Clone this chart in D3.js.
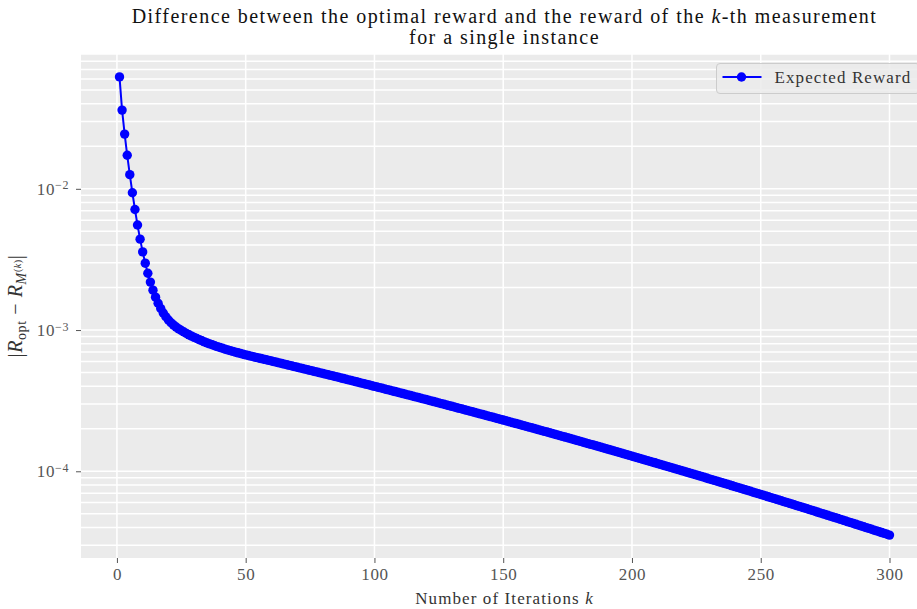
<!DOCTYPE html>
<html>
<head>
<meta charset="utf-8">
<script src="https://cdn.jsdelivr.net/npm/d3@7"></script>
<style>
  body { margin: 0; background: #fff; }
  svg { display: block; font-family: "Liberation Serif", "DejaVu Serif", serif; }
</style>
</head>
<body>
<div id="chartContainer"></div>
<script>
// iteration index k and |R_opt - R_M(k)|
const iterations = d3.range(1, 301);
const rewardGap = [
  // k = 1..10
  0.0620, 0.0361, 0.02441, 0.01728, 0.01260, 9.386e-3, 7.137e-3, 5.540e-3, 4.401e-3, 3.577e-3,
  // 11..20
  2.975e-3, 2.526e-3, 2.185e-3, 1.917e-3, 1.710e-3, 1.549e-3, 1.422e-3, 1.321e-3, 1.242e-3, 1.178e-3,
  // 21..30
  1.127e-3, 1.085e-3, 1.050e-3, 1.019e-3, 9.922e-4, 9.681e-4, 9.460e-4, 9.253e-4, 9.059e-4, 8.878e-4,
  // 31..40
  8.708e-4, 8.547e-4, 8.395e-4, 8.251e-4, 8.115e-4, 7.987e-4, 7.865e-4, 7.748e-4, 7.637e-4, 7.530e-4,
  // 41..50
  7.428e-4, 7.332e-4, 7.239e-4, 7.150e-4, 7.063e-4, 6.981e-4, 6.901e-4, 6.823e-4, 6.748e-4, 6.668e-4,
  // 51..60
  6.602e-4, 6.537e-4, 6.472e-4, 6.408e-4, 6.345e-4, 6.282e-4, 6.220e-4, 6.158e-4, 6.097e-4, 6.037e-4,
  // 61..70
  5.976e-4, 5.916e-4, 5.857e-4, 5.798e-4, 5.740e-4, 5.682e-4, 5.625e-4, 5.568e-4, 5.512e-4, 5.457e-4,
  // 71..80
  5.401e-4, 5.346e-4, 5.292e-4, 5.238e-4, 5.185e-4, 5.132e-4, 5.080e-4, 5.028e-4, 4.977e-4, 4.926e-4,
  // 81..90
  4.875e-4, 4.825e-4, 4.775e-4, 4.726e-4, 4.677e-4, 4.629e-4, 4.581e-4, 4.534e-4, 4.487e-4, 4.440e-4,
  // 91..100
  4.393e-4, 4.347e-4, 4.301e-4, 4.256e-4, 4.211e-4, 4.167e-4, 4.123e-4, 4.080e-4, 4.037e-4, 3.995e-4,
  // 101..110
  3.953e-4, 3.911e-4, 3.869e-4, 3.828e-4, 3.787e-4, 3.747e-4, 3.707e-4, 3.668e-4, 3.629e-4, 3.590e-4,
  // 111..120
  3.551e-4, 3.513e-4, 3.475e-4, 3.438e-4, 3.401e-4, 3.364e-4, 3.328e-4, 3.292e-4, 3.256e-4, 3.221e-4,
  // 121..130
  3.186e-4, 3.151e-4, 3.117e-4, 3.083e-4, 3.049e-4, 3.016e-4, 2.983e-4, 2.950e-4, 2.918e-4, 2.885e-4,
  // 131..140
  2.853e-4, 2.821e-4, 2.790e-4, 2.759e-4, 2.728e-4, 2.698e-4, 2.668e-4, 2.638e-4, 2.609e-4, 2.581e-4,
  // 141..150
  2.552e-4, 2.523e-4, 2.495e-4, 2.467e-4, 2.439e-4, 2.412e-4, 2.385e-4, 2.358e-4, 2.332e-4, 2.305e-4,
  // 151..160
  2.279e-4, 2.253e-4, 2.227e-4, 2.202e-4, 2.177e-4, 2.152e-4, 2.128e-4, 2.104e-4, 2.080e-4, 2.056e-4,
  // 161..170
  2.032e-4, 2.009e-4, 1.986e-4, 1.963e-4, 1.940e-4, 1.918e-4, 1.896e-4, 1.874e-4, 1.852e-4, 1.831e-4,
  // 171..180
  1.810e-4, 1.789e-4, 1.768e-4, 1.747e-4, 1.727e-4, 1.707e-4, 1.687e-4, 1.667e-4, 1.648e-4, 1.628e-4,
  // 181..190
  1.609e-4, 1.590e-4, 1.571e-4, 1.552e-4, 1.534e-4, 1.516e-4, 1.498e-4, 1.480e-4, 1.462e-4, 1.445e-4,
  // 191..200
  1.428e-4, 1.411e-4, 1.394e-4, 1.377e-4, 1.361e-4, 1.345e-4, 1.329e-4, 1.313e-4, 1.297e-4, 1.281e-4,
  // 201..210
  1.265e-4, 1.250e-4, 1.235e-4, 1.220e-4, 1.205e-4, 1.190e-4, 1.176e-4, 1.162e-4, 1.148e-4, 1.134e-4,
  // 211..220
  1.120e-4, 1.106e-4, 1.092e-4, 1.079e-4, 1.066e-4, 1.053e-4, 1.040e-4, 1.027e-4, 1.014e-4, 1.002e-4,
  // 221..230
  9.896e-5, 9.773e-5, 9.652e-5, 9.532e-5, 9.414e-5, 9.297e-5, 9.182e-5, 9.068e-5, 8.955e-5, 8.844e-5,
  // 231..240
  8.733e-5, 8.623e-5, 8.515e-5, 8.408e-5, 8.302e-5, 8.198e-5, 8.095e-5, 7.993e-5, 7.893e-5, 7.793e-5,
  // 241..250
  7.694e-5, 7.596e-5, 7.499e-5, 7.404e-5, 7.310e-5, 7.217e-5, 7.125e-5, 7.034e-5, 6.945e-5, 6.857e-5,
  // 251..260
  6.769e-5, 6.682e-5, 6.596e-5, 6.511e-5, 6.427e-5, 6.344e-5, 6.262e-5, 6.181e-5, 6.102e-5, 6.024e-5,
  // 261..270
  5.946e-5, 5.869e-5, 5.793e-5, 5.718e-5, 5.644e-5, 5.570e-5, 5.498e-5, 5.426e-5, 5.355e-5, 5.284e-5,
  // 271..280
  5.214e-5, 5.145e-5, 5.077e-5, 5.010e-5, 4.944e-5, 4.879e-5, 4.815e-5, 4.752e-5, 4.689e-5, 4.628e-5,
  // 281..290
  4.566e-5, 4.505e-5, 4.445e-5, 4.386e-5, 4.328e-5, 4.270e-5, 4.213e-5, 4.157e-5, 4.102e-5, 4.048e-5,
  // 291..300
  3.994e-5, 3.940e-5, 3.887e-5, 3.835e-5, 3.783e-5, 3.732e-5, 3.682e-5, 3.632e-5, 3.583e-5, 3.534e-5
];

const xTickValues = [0, 50, 100, 150, 200, 250, 300];
const yTickExponents = [-4, -3, -2];
const seriesName = "Expected Reward";

const ctx = {
    SVG_W: 917,
    SVG_H: 609,
    margin: { top: 54, left: 81 },
    plotW: 847,
    plotH: 504,
    bg: "#EBEBEB",
    blue: "#0000FF",
    tickColor: "#555555"
};

function createViz() {
    const svg = d3.select("#chartContainer").append("svg")
        .attr("width", ctx.SVG_W)
        .attr("height", ctx.SVG_H);

    const data = iterations.map((k, i) => ({ k: k, v: rewardGap[i] }));

    // matplotlib style 5% margins (log space for y)
    const xExt = d3.extent(iterations);
    const xPad = (xExt[1] - xExt[0]) * 0.05;
    const yLog = d3.extent(rewardGap).map(Math.log10);
    const yPad = (yLog[1] - yLog[0]) * 0.05;

    const x = d3.scaleLinear()
        .domain([xExt[0] - xPad, xExt[1] + xPad])
        .range([0, ctx.plotW]);
    const y = d3.scaleLog()
        .domain([Math.pow(10, yLog[0] - yPad), Math.pow(10, yLog[1] + yPad)])
        .range([ctx.plotH, 0]);

    const g = svg.append("g")
        .attr("transform", `translate(${ctx.margin.left},${ctx.margin.top})`);

    g.append("rect")
        .attr("width", ctx.plotW)
        .attr("height", ctx.plotH)
        .attr("fill", ctx.bg);

    // grid: every log tick (major + minor) and the x ticks
    g.append("g").selectAll("line")
        .data(y.ticks().filter(t => y(t) >= 0 && y(t) <= ctx.plotH))
        .join("line")
        .attr("x1", 0).attr("x2", ctx.plotW)
        .attr("y1", d => y(d)).attr("y2", d => y(d))
        .attr("stroke", "#fff")
        .attr("stroke-width", 1.5);

    g.append("g").selectAll("line")
        .data(xTickValues)
        .join("line")
        .attr("x1", d => x(d)).attr("x2", d => x(d))
        .attr("y1", 0).attr("y2", ctx.plotH)
        .attr("stroke", "#fff")
        .attr("stroke-width", 1.5);

    // axes
    const xAxis = g.append("g")
        .attr("transform", `translate(0,${ctx.plotH})`)
        .call(d3.axisBottom(x).tickValues(xTickValues).tickSize(5).tickPadding(5));
    xAxis.select(".domain").remove();
    xAxis.selectAll("line").attr("stroke", ctx.tickColor);
    xAxis.selectAll("text")
        .attr("fill", ctx.tickColor)
        .attr("font-family", "Liberation Serif")
        .attr("font-size", 17)
        .attr("letter-spacing", 0.6);

    const yAxis = g.append("g")
        .call(d3.axisLeft(y).tickValues(yTickExponents.map(e => Math.pow(10, e)))
            .tickSize(5).tickPadding(7).tickFormat(""));
    yAxis.select(".domain").remove();
    yAxis.selectAll("line").attr("stroke", ctx.tickColor);
    yAxis.selectAll(".tick text")
        .attr("fill", ctx.tickColor)
        .attr("font-family", "Liberation Serif")
        .attr("font-size", 17)
        .attr("letter-spacing", 0.6)
        .each(function(d) {
            const t = d3.select(this);
            t.append("tspan").text("10");
            t.append("tspan")
                .attr("dy", "-0.45em")
                .attr("font-size", 12)
                .text("\u2212" + Math.abs(Math.round(Math.log10(d))));
        });

    // series
    g.append("path")
        .datum(data)
        .attr("fill", "none")
        .attr("stroke", ctx.blue)
        .attr("stroke-width", 2)
        .attr("d", d3.line().x(d => x(d.k)).y(d => y(d.v)));

    g.append("g").selectAll("circle")
        .data(data)
        .join("circle")
        .attr("cx", d => x(d.k))
        .attr("cy", d => y(d.v))
        .attr("r", 4.7)
        .attr("fill", ctx.blue);

    // legend (upper right)
    const lg = svg.append("g").attr("transform", "translate(716.5,63.5)");
    lg.append("rect")
        .attr("width", 203).attr("height", 30)
        .attr("rx", 3.5)
        .attr("fill", ctx.bg).attr("fill-opacity", 0.85)
        .attr("stroke", "#CCCCCC");
    lg.append("line")
        .attr("x1", 6).attr("x2", 45).attr("y1", 13.5).attr("y2", 13.5)
        .attr("stroke", ctx.blue).attr("stroke-width", 2);
    lg.append("circle")
        .attr("cx", 25).attr("cy", 13.5).attr("r", 4.7)
        .attr("fill", ctx.blue);
    lg.append("text")
        .attr("x", 58).attr("y", 19.5)
        .attr("font-size", 17).attr("letter-spacing", 1.1).attr("fill", "#333")
        .text(seriesName);

    // title
    const cx = ctx.margin.left + ctx.plotW / 2;
    const title = svg.append("text")
        .attr("text-anchor", "middle")
        .attr("font-size", 20)
        .attr("letter-spacing", 1.45)
        .attr("fill", "#111");
    const l1 = title.append("tspan").attr("x", cx).attr("y", 23);
    l1.append("tspan").text("Difference between the optimal reward and the reward of the ");
    l1.append("tspan").attr("font-style", "italic").text("k");
    l1.append("tspan").text("-th measurement");
    title.append("tspan").attr("x", cx).attr("y", 44).text("for a single instance");

    // x label
    const xl = svg.append("text")
        .attr("x", cx).attr("y", 604)
        .attr("text-anchor", "middle")
        .attr("font-size", 17)
        .attr("letter-spacing", 1.1)
        .attr("fill", "#333");
    xl.append("tspan").text("Number of Iterations ");
    xl.append("tspan").attr("font-style", "italic").text("k");

    // y label |R_opt - R_M^(k)|
    const yl = svg.append("text")
        .attr("transform", `translate(22,${ctx.margin.top + ctx.plotH / 2}) rotate(-90)`)
        .attr("text-anchor", "middle")
        .attr("font-size", 20)
        .attr("letter-spacing", 0.6)
        .attr("fill", "#333");
    yl.append("tspan").text("|");
    yl.append("tspan").attr("font-style", "italic").text("R");
    yl.append("tspan").attr("dy", 4).attr("font-size", 14).text("opt");
    yl.append("tspan").attr("dy", -4).text(" \u2212 ");
    yl.append("tspan").attr("font-style", "italic").text("R");
    yl.append("tspan").attr("dy", 4).attr("font-size", 14).attr("font-style", "italic").text("M");
    yl.append("tspan").attr("dy", -5).attr("font-size", 10).text("(");
    yl.append("tspan").attr("font-size", 10).attr("font-style", "italic").text("k");
    yl.append("tspan").attr("font-size", 10).text(")");
    yl.append("tspan").attr("dy", 1).text("|");
}

createViz();
</script>
</body>
</html>
